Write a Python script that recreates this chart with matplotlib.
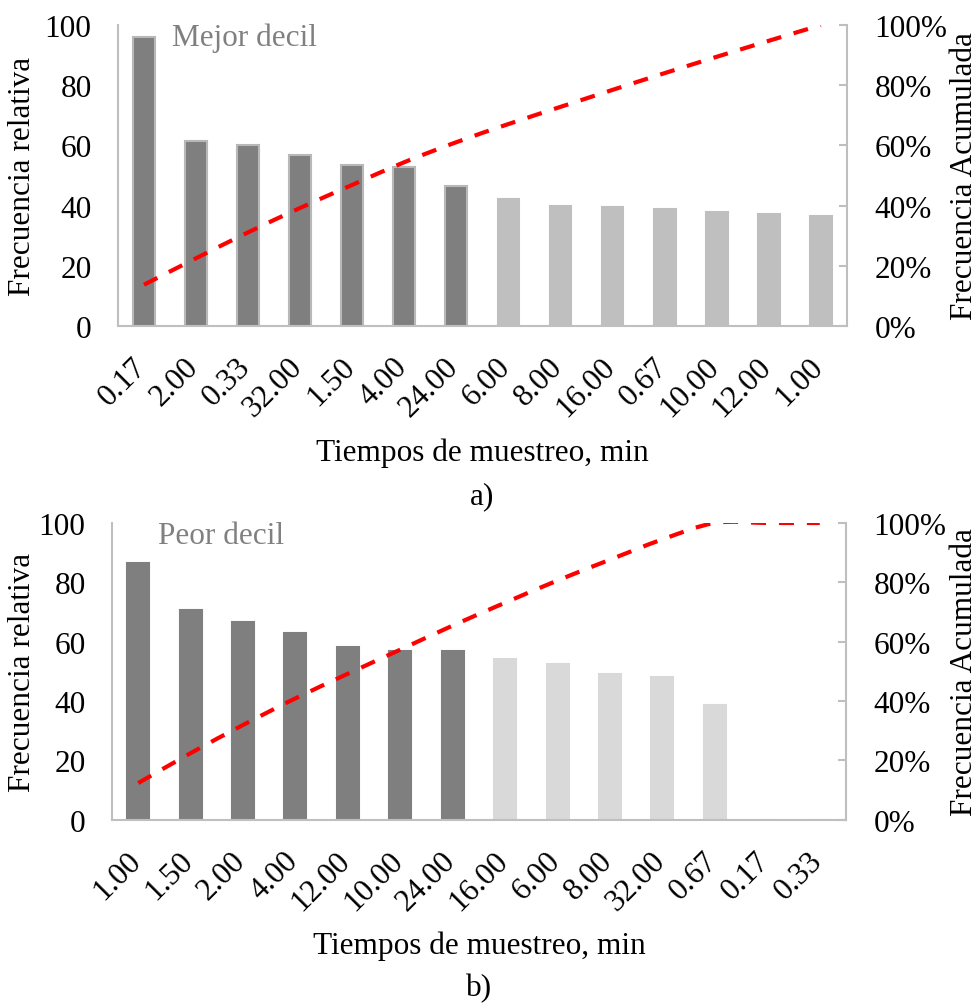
import matplotlib.pyplot as plt
from matplotlib.path import Path
from matplotlib.patches import PathPatch
from matplotlib.ticker import FuncFormatter
from matplotlib.transforms import ScaledTranslation
import numpy as np

plt.rcParams["font.family"] = ["Liberation Serif", "DejaVu Serif"]

# panel a) - mejor decil
labels_a = ["0.17", "2.00", "0.33", "32.00", "1.50", "4.00", "24.00",
            "6.00", "8.00", "16.00", "0.67", "10.00", "12.00", "1.00"]
freq_a = [96.0, 61.5, 60.2, 56.8, 53.5, 52.8, 46.5,
          42.2, 39.9, 39.5, 38.9, 38.0, 37.2, 36.5]
n_dark_a = 7

# panel b) - peor decil
labels_b = ["1.00", "1.50", "2.00", "4.00", "12.00", "10.00", "24.00",
            "16.00", "6.00", "8.00", "32.00", "0.67", "0.17", "0.33"]
freq_b = [86.5, 70.7, 66.6, 62.9, 58.2, 56.9, 56.9,
          54.1, 52.5, 49.1, 48.0, 38.7, 0.0, 0.0]
n_dark_b = 7

RED = "#ff0000"
SPINE = "#bfbfbf"
FS = 22.5


def smooth_path(x, y, t=1 / 6):
    # excel-like smoothed line (catmull-rom -> cubic bezier)
    pts = np.column_stack([x, y])
    verts = [pts[0]]
    codes = [Path.MOVETO]
    n = len(pts)
    for i in range(n - 1):
        p0 = pts[max(i - 1, 0)]
        p1 = pts[i]
        p2 = pts[i + 1]
        p3 = pts[min(i + 2, n - 1)]
        c1 = p1 + (p2 - p0) * t
        c2 = p2 - (p3 - p1) * t
        verts += [c1, c2, p2]
        codes += [Path.CURVE4] * 3
    return Path(verts, codes)


def panel(fig, rect, labels, freq, n_dark, dark, light, edge, title, letter,
          title_x):
    ax = fig.add_axes(rect)
    W = rect[2] * fig.bbox.width
    x = np.arange(len(labels))
    cols = [dark] * n_dark + [light] * (len(labels) - n_dark)
    edges = [edge] * n_dark + [light] * (len(labels) - n_dark)
    ax.bar(x, freq, width=0.42, color=cols, edgecolor=edges, linewidth=1.5,
           zorder=2)
    ax.set_xlim(-0.5, len(labels) - 0.5)
    ax.set_ylim(0, 100)
    ax.set_yticks(range(0, 101, 20))
    ax.set_xticks(x)
    ax.set_xticklabels(labels, rotation=45, ha="right", va="center",
                       rotation_mode="anchor", fontsize=FS)
    ax.tick_params(axis="both", length=0, labelsize=FS)
    ax.tick_params(axis="x", pad=26)
    ax.tick_params(axis="y", pad=19)
    shift = ScaledTranslation(-2 / 100, 0, fig.dpi_scale_trans)
    for lab in ax.get_xticklabels():
        lab.set_transform(lab.get_transform() + shift)
    for s in ["top", "right"]:
        ax.spines[s].set_visible(False)
    for s in ["left", "bottom"]:
        ax.spines[s].set_color(SPINE)
        ax.spines[s].set_linewidth(1.5)
    ax.set_ylabel("Frecuencia relativa", fontsize=FS)
    ax.yaxis.set_label_coords(-(rect[0] * fig.bbox.width - 37) / W, 0.5)
    ax.set_xlabel("Tiempos de muestreo, min", fontsize=FS, labelpad=11)
    ax.text(title_x, 1.007, title, transform=ax.transAxes, fontsize=FS,
            color="#808080", ha="left", va="top")
    ax.text(0.5, -0.515, letter, transform=ax.transAxes, fontsize=FS,
            ha="center", va="top")

    cum = np.cumsum(freq) / np.sum(freq)
    ax2 = ax.twinx()
    ax2.set_ylim(0, 1)
    ax2.set_yticks(np.arange(0, 1.01, 0.2))
    ax2.yaxis.set_major_formatter(FuncFormatter(lambda v, p: f"{v:.0%}"))
    ax2.tick_params(axis="y", direction="in", length=6, width=1.5,
                    color=SPINE, labelsize=FS, pad=20)
    for s in ["top", "left", "bottom"]:
        ax2.spines[s].set_visible(False)
    ax2.spines["right"].set_color(SPINE)
    ax2.spines["right"].set_linewidth(1.5)
    ax2.set_ylabel("Frecuencia Acumulada", fontsize=FS)
    ax2.yaxis.set_label_coords((950 - rect[0] * fig.bbox.width) / W, 0.5)
    patch = PathPatch(smooth_path(x, cum), facecolor="none", edgecolor=RED,
                      linewidth=3, linestyle=(0, (3.6, 3.1)), zorder=3,
                      capstyle="butt")
    ax2.add_patch(patch)
    return ax, ax2


fig = plt.figure(figsize=(9.79, 10.04), dpi=100)
panel(fig, [0.1205, 0.6743, 0.7445, 0.2997], labels_a, freq_a, n_dark_a,
      "#7f7f7f", "#bfbfbf", "#b8b8b8", "Mejor decil", "a)", 0.074)
panel(fig, [0.1144, 0.1826, 0.7497, 0.2955], labels_b, freq_b, n_dark_b,
      "#7f7f7f", "#d9d9d9", "#7f7f7f", "Peor decil", "b)", 0.062)

fig.savefig("out.png", dpi=100)
